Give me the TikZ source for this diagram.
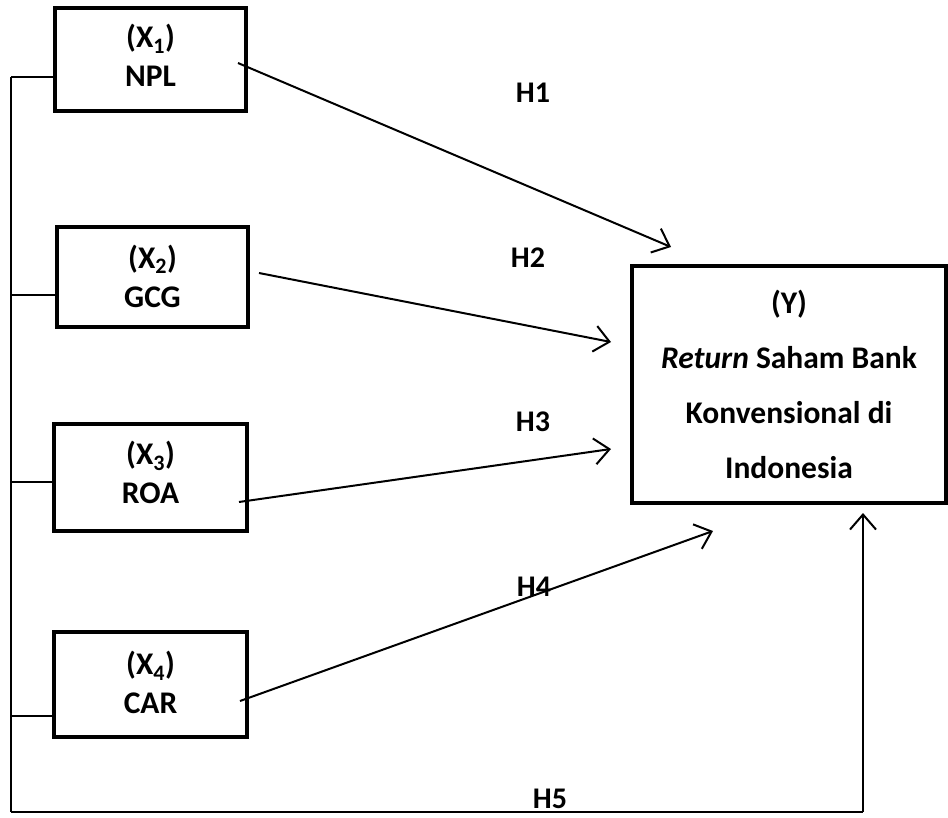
\documentclass[tikz,border=0pt]{standalone}
\usepackage{fontspec}
\setmainfont{Carlito}
\usetikzlibrary{arrows.meta}
\tikzset{
  varbox/.style={draw, line width=4.5pt, rectangle, inner sep=0pt},
  vtext/.style={align=center, inner sep=0pt, font=\bfseries\fontsize{31.5}{39}\selectfont},
  ybox/.style={draw, line width=4.5pt, rectangle, align=center, inner sep=0pt,
    font=\bfseries\fontsize{31.5}{55}\selectfont},
  hlab/.style={font=\bfseries\fontsize{30}{36}\selectfont, inner sep=0pt},
  conn/.style={line width=2pt},
  arr/.style={line width=2pt, -{Straight Barb[length=15pt,width=26pt,line width=2pt]}},
  thin/.style={line width=1.6pt}
}
\begin{document}
\begin{tikzpicture}[x=1pt,y=-1pt]
\useasboundingbox (0,0) rectangle (948,817);
\node[varbox, minimum width=191pt, minimum height=103pt] (x1) at (150.5,59.5) {};
\node[varbox, minimum width=191pt, minimum height=100pt] (x2) at (152.5,277) {};
\node[varbox, minimum width=193pt, minimum height=107pt] (x3) at (150.5,477.5) {};
\node[varbox, minimum width=193pt, minimum height=105pt] (x4) at (150.5,684.5) {};
\node[vtext] (x1t) at ([yshift=4pt]x1.center) {(X\textsubscript{1})\\NPL};
\node[vtext] (x2t) at ([yshift=1pt]x2.center) {(X\textsubscript{2})\\GCG};
\node[vtext] (x3t) at ([yshift=5pt]x3.center) {(X\textsubscript{3})\\ROA};
\node[vtext] (x4t) at ([yshift=2pt]x4.center) {(X\textsubscript{4})\\CAR};
\node[ybox, minimum width=314pt, minimum height=237pt] (y) at (789,384.5) {(Y)\\\textit{Return} Saham Bank\\Konvensional di\\Indonesia};

\node[hlab] (h1) at (533,93) {H1};
\node[hlab] (h2) at (528,258) {H2};
\node[hlab] (h3) at (533,422) {H3};
\node[hlab] (h4) at (534,587) {H4};
\node[hlab] (h5) at (550,799) {H5};

\coordinate (s1) at (238,63);
\coordinate (e1) at (671,247);
\coordinate (s2) at (259,273);
\coordinate (e2) at (611,342);
\coordinate (s3) at (239,502);
\coordinate (e3) at (611,449);
\coordinate (s4) at (240,701);
\coordinate (e4) at (713,531);
\coordinate (top) at (11,77);
\coordinate (bl) at (11,812);
\coordinate (br) at (863,812);
\coordinate (e5) at (863,513);

\draw[arr] (s1) -- (e1);
\draw[arr] (s2) -- (e2);
\draw[arr] (s3) -- (e3);
\draw[arr] (s4) -- (e4);

\draw[thin] (top) -- (bl);
\draw[thin] (top) -- (x1.west |- top);
\draw[thin] (11,295) -- (x2.west |- 0,295);
\draw[thin] (11,482) -- (x3.west |- 0,482);
\draw[thin] (11,716) -- (x4.west |- 0,716);
\draw[conn] (bl) -- (br);
\draw[arr] (br) -- (e5);
\end{tikzpicture}
\end{document}
